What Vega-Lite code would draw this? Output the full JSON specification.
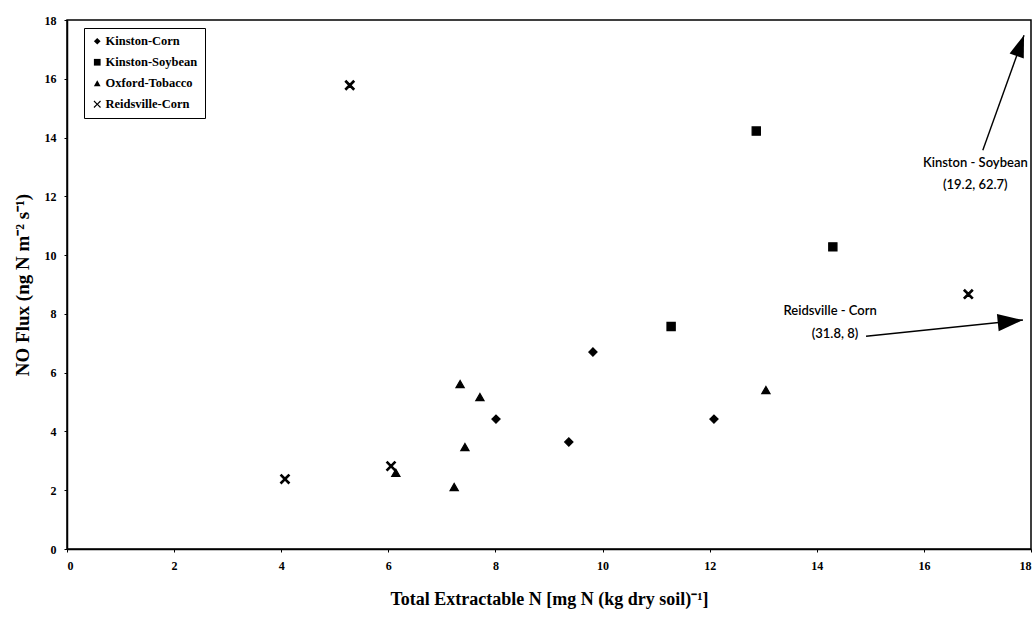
{
  "$schema": "https://vega.github.io/schema/vega-lite/v6.json",
  "width": 964,
  "height": 529,
  "autosize": {"type": "none"},
  "padding": {"left": 67, "top": 20, "right": 4, "bottom": 70},
  "background": "white",
  "config": {
    "view": {"stroke": "black", "strokeWidth": 1.5},
    "font": "Liberation Serif"
  },
  "datasets": {
    "points": [
      {"site": "Kinston-Corn", "n": 9.82, "flux": 6.7},
      {"site": "Kinston-Corn", "n": 9.37, "flux": 3.64},
      {"site": "Kinston-Corn", "n": 12.08, "flux": 4.42},
      {"site": "Kinston-Corn", "n": 8.01, "flux": 4.42},
      {"site": "Kinston-Soybean", "n": 12.87, "flux": 14.22},
      {"site": "Kinston-Soybean", "n": 14.3, "flux": 10.28},
      {"site": "Kinston-Soybean", "n": 11.28, "flux": 7.57},
      {"site": "Oxford-Tobacco", "n": 7.34, "flux": 5.61},
      {"site": "Oxford-Tobacco", "n": 7.71, "flux": 5.17},
      {"site": "Oxford-Tobacco", "n": 7.43, "flux": 3.47},
      {"site": "Oxford-Tobacco", "n": 6.14, "flux": 2.59},
      {"site": "Oxford-Tobacco", "n": 7.23, "flux": 2.11},
      {"site": "Oxford-Tobacco", "n": 13.05, "flux": 5.41},
      {"site": "Reidsville-Corn", "n": 5.28, "flux": 15.78},
      {"site": "Reidsville-Corn", "n": 6.05, "flux": 2.82},
      {"site": "Reidsville-Corn", "n": 4.07, "flux": 2.38},
      {"site": "Reidsville-Corn", "n": 16.83, "flux": 8.67}
    ],
    "arrows": [
      {"label": "Kinston - Soybean", "n": 17.1, "flux": 13.57, "n2": 17.87, "flux2": 17.48},
      {"label": "Reidsville - Corn", "n": 14.92, "flux": 7.24, "n2": 17.85, "flux2": 7.79}
    ],
    "notes": [
      {"text": "Kinston - Soybean", "n": 16.96, "flux": 13.13},
      {"text": "(19.2, 62.7)", "n": 16.96, "flux": 12.38},
      {"text": "Reidsville - Corn", "n": 14.25, "flux": 8.1},
      {"text": "(31.8, 8)", "n": 14.34, "flux": 7.33}
    ]
  },
  "layer": [
    {
      "data": {"name": "points"},
      "mark": {"type": "point", "filled": true, "color": "black", "stroke": "black", "strokeWidth": 1.2, "size": 68, "opacity": 1},
      "encoding": {
        "x": {
          "field": "n", "type": "quantitative",
          "scale": {"domain": [0, 18], "nice": false, "zero": false},
          "axis": {
            "title": "Total Extractable N [mg N (kg dry soil)⁻¹]",
            "values": [0, 2, 4, 6, 8, 10, 12, 14, 16, 18],
            "grid": false, "domainColor": "black", "domainWidth": 1.5,
            "tickColor": "black", "tickSize": 3,
            "labelFont": "Liberation Serif", "labelFontWeight": "bold", "labelFontSize": 12, "labelColor": "black", "labelPadding": 8,
            "titleFont": "Liberation Serif", "titleFontWeight": "bold", "titleFontSize": 18, "titleColor": "black", "titlePadding": 19
          }
        },
        "y": {
          "field": "flux", "type": "quantitative",
          "scale": {"domain": [0, 18], "nice": false, "zero": false},
          "axis": {
            "title": "NO Flux (ng N m⁻² s⁻¹)",
            "values": [0, 2, 4, 6, 8, 10, 12, 14, 16, 18],
            "grid": false, "domainColor": "black", "domainWidth": 1.5,
            "tickColor": "black", "tickSize": 3,
            "labelFont": "Liberation Serif", "labelFontWeight": "bold", "labelFontSize": 12, "labelColor": "black", "labelPadding": 8,
            "titleFont": "Liberation Serif", "titleFontWeight": "bold", "titleFontSize": 19, "titleColor": "black", "titlePadding": 12
          }
        },
        "shape": {
          "field": "site", "type": "nominal",
          "scale": {
            "domain": ["Kinston-Corn", "Kinston-Soybean", "Oxford-Tobacco", "Reidsville-Corn"],
            "range": ["diamond", "square", "triangle-up", "M-1.1,-0.85L-0.85,-1.1L0,-0.25L0.85,-1.1L1.1,-0.85L0.25,0L1.1,0.85L0.85,1.1L0,0.25L-0.85,1.1L-1.1,0.85L-0.25,0Z"]
          },
          "legend": {
            "title": null, "orient": "none", "legendX": 17, "legendY": 8,
            "strokeColor": "black", "fillColor": "white", "padding": 7,
            "labelFont": "Liberation Serif", "labelFontWeight": "bold", "labelFontSize": 12.5, "labelColor": "black",
            "symbolSize": 45, "symbolFillColor": "black", "symbolStrokeColor": "black", "symbolStrokeWidth": 1,
            "rowPadding": 8, "labelOffset": 2, "symbolOffset": 0
          }
        }
      }
    },
    {
      "data": {"name": "arrows"},
      "mark": {"type": "rule", "color": "black", "strokeWidth": 1.4},
      "encoding": {
        "x": {"field": "n", "type": "quantitative"},
        "y": {"field": "flux", "type": "quantitative"},
        "x2": {"field": "n2"},
        "y2": {"field": "flux2"}
      }
    },
    {
      "data": {"name": "arrows"},
      "transform": [{"filter": "datum.label == 'Kinston - Soybean'"}],
      "mark": {"type": "point", "shape": "M0,0L-0.55,1.6L0.55,1.6Z", "filled": true, "color": "black", "opacity": 1, "angle": 19.6, "size": 750},
      "encoding": {
        "x": {"field": "n2", "type": "quantitative"},
        "y": {"field": "flux2", "type": "quantitative"}
      }
    },
    {
      "data": {"name": "arrows"},
      "transform": [{"filter": "datum.label == 'Reidsville - Corn'"}],
      "mark": {"type": "point", "shape": "M0,0L-0.55,1.6L0.55,1.6Z", "filled": true, "color": "black", "opacity": 1, "angle": 84.2, "size": 1000},
      "encoding": {
        "x": {"field": "n2", "type": "quantitative"},
        "y": {"field": "flux2", "type": "quantitative"}
      }
    },
    {
      "data": {"name": "notes"},
      "mark": {"type": "text", "font": "Lato", "fontSize": 13, "fontWeight": 600, "color": "black", "align": "center", "baseline": "middle"},
      "encoding": {
        "x": {"field": "n", "type": "quantitative"},
        "y": {"field": "flux", "type": "quantitative"},
        "text": {"field": "text"}
      }
    }
  ]
}
